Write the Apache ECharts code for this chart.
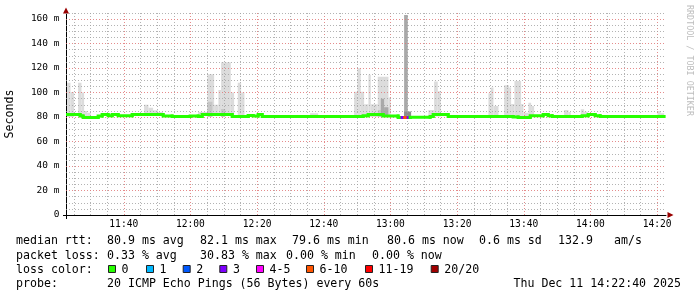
<!DOCTYPE html>
<html><head><meta charset="utf-8">
<script src="https://cdn.jsdelivr.net/npm/echarts@6/dist/echarts.min.js"></script>
<style>html,body{margin:0;padding:0;background:#fff}#c{width:697px;height:297px}</style>
</head><body><div id="c"></div>
<script>
// ---------------- data ----------------
const START = '11:22:40', END = '14:22:40';
const timeLabels = ['11:40','12:00','12:20','12:40','13:00','13:20','13:40','14:00','14:20'];
const yTickLabels = ['0','20 m','40 m','60 m','80 m','100 m','120 m','140 m','160 m'];
// median rtt steps: [from (min of day), to, ms, loss class]
const medianSegments = [
  [683.0,686.9,82.1,0],[686.9,687.8,80.8,0],[687.8,692.3,79.6,0],[692.3,693.5,80.8,0],
  [693.5,695.3,82.0,0],[695.3,696.5,81.0,0],[696.5,698.3,82.0,0],[698.3,702.5,81.0,0],
  [702.5,711.8,82.0,0],[711.8,714.5,80.8,0],[714.5,719.9,80.4,0],[719.9,722.3,80.8,0],
  [722.3,723.5,80.4,0],[723.5,732.5,82.0,0],[732.5,737.3,80.4,0],[737.3,738.8,81.3,0],
  [738.8,740.3,80.8,0],[740.3,741.5,82.0,0],[741.5,771.8,80.4,0],[771.8,773.3,81.1,0],
  [773.3,777.8,82.0,0],[777.8,782.3,80.8,0],[782.3,783.5,79.6,0],[783.5,784.3,79.6,3],
  [784.3,785.3,79.6,5],[785.3,785.9,79.6,3],[785.9,791.9,79.8,0],[791.9,792.8,80.4,0],
  [792.8,797.3,82.0,0],[797.3,816.8,80.4,0],[816.8,818.3,80.0,0],[818.3,821.9,79.6,0],
  [821.9,825.8,81.1,0],[825.8,827.3,82.0,0],[827.3,828.5,81.1,0],[828.5,837.5,80.4,0],
  [837.5,839.3,81.1,0],[839.3,841.4,82.0,0],[841.4,842.9,81.1,0],[842.9,862.1,80.4,0]
];
// smoke blocks: [from, to, low ms, high ms, shade]
const smoke = [
  [683.0,684.0,80,108,0],[684.0,685.1,80,100.5,0],[686.3,687.3,80,108,0],[687.3,688.1,80,100,0],
  [688.1,689.0,80,85,0],[689.0,690.1,80,83.5,0],
  [706.1,707.4,81,90,0],[707.4,708.8,81,87.5,0],[708.8,710.3,81,85.5,0],[710.3,711.8,81,84,0],
  [722.3,725.1,81,84,0],[725.1,727.1,81,115,0],[725.1,726.6,80,92.5,1],[727.1,728.4,81,90,0],
  [728.4,729.2,81,102,0],[729.2,732.1,81,124.6,0],[729.2,730.4,80,86.5,1],[732.1,733.1,81,100,0],
  [734.2,735.2,81,108,0],[735.2,736.2,81,100,0],
  [755.9,758.3,80,83,0],
  [769.1,770.1,80,100.7,0],[770.1,771.1,80,119.7,0],[771.1,772.1,80,100.7,0],[772.1,773.4,80,90.5,0],
  [773.4,774.1,80,114.5,0],[774.1,776.2,80,90.5,0],[776.2,779.4,80,112.9,0],[779.4,780.1,80,96,0],
  [776.2,777.1,80,85.7,1],[777.1,778.1,80,95,2],[778.1,779.4,80,88,2],
  [784.1,785.2,80,163.3,2],[784.1,786.2,79.5,84.5,3],
  [791.4,793.1,80.5,85.7,0],[793.1,794.2,80.5,109,0],[794.2,795.1,80.5,101,0],
  [809.4,810.1,80,99.3,0],[810.1,810.9,80,104,0],[810.9,812.4,80,89,0],
  [814.1,815.6,80,106,0],[815.6,816.2,80,104,0],[816.2,817.2,80,90.6,0],[817.2,819.2,80,109.4,0],
  [819.2,819.9,80,90.6,0],[819.9,821.4,80,83.5,0],[821.4,822.2,80,91.7,0],[822.2,823.1,80,89,0],
  [832.1,833.4,80,85.7,0],[833.4,834.1,80,84,0],[837.1,838.1,80,86.3,0],[838.1,839.2,80,84.3,0],
  [860.1,861.1,80,85,0],[861.1,862.1,80,83,0]
];
const rttStats = ['median rtt:','80.9 ms avg','82.1 ms max','79.6 ms min','80.6 ms now','0.6 ms sd','132.9','am/s'];
const lossStats = ['packet loss:','0.33 % avg','30.83 % max','0.00 % min','0.00 % now'];
const lossLegend = ['0','1','2','3','4-5','6-10','11-19','20/20'];
const probeText = ['probe:','20 ICMP Echo Pings (56 Bytes) every 60s'];
const dateText = 'Thu Dec 11 14:22:40 2025';

// ---------------- styles / layout ----------------
const lossPalette = ['#26ff00','#00b8ff','#0059ff','#7e00ff','#ff00ff','#ff5500','#ff0000','#a10000'];
const smokeShades = ['#dcdcdc','#c6c6c6','#a9a9a9','#8c8c8c'];
const MONO = '"DejaVu Sans Mono", monospace';
const toMin = s => { const p = s.split(':').map(Number); return p[0]*60 + p[1] + (p[2]||0)/60; };
const tMin = toMin(START), tMax = toMin(END);
const labelTimes = timeLabels.map(toMin);
const Y_MAX = 166;

const chart = echarts.init(document.getElementById('c'), null, {renderer:'canvas', width:697, height:297});

// grid lines
const gridLines = [];
const majorStyle = {color:'rgba(225,120,120,0.85)', width:1, type:[1,2]};
const minorStyle = {color:'rgba(160,160,160,0.8)', width:1, type:[1,2]};
for (let t = Math.ceil(tMin/5)*5; t < tMax; t += 5) {
  gridLines.push({xAxis:t, lineStyle: (t % 20 === 0) ? majorStyle : minorStyle});
}
for (let v = 5; v <= 165; v += 5) {
  gridLines.push({yAxis:v, lineStyle: (v % 20 === 0) ? majorStyle : minorStyle});
}

// median steps: [from, to, value, previous value, loss]
const medianData = medianSegments.map((s, i) => [s[0], s[1], s[2], i ? medianSegments[i-1][2] : s[2], s[3]]);

// legend graphics
const g = [];
const txt = (text, x, y, extra) => g.push(Object.assign({type:'text', x, y, silent:true,
  style:{text, font:'11.6px ' + MONO, fill:'#000', align:'left', verticalAlign:'middle'}}, extra||{}));
const rowY = [241, 255.5, 269.5, 283.5];
const rttX = [16,107,200,292,387,479,558,614];
rttStats.forEach((s,i) => txt(s, rttX[i], rowY[0]));
const lossX = [16,107,200,286,372];
lossStats.forEach((s,i) => txt(s, lossX[i], rowY[1]));
txt('loss color:', 16, rowY[2]);
const boxX = [108,146,182.7,219.3,256,306,365,430.7];
lossLegend.forEach((s,i) => {
  g.push({type:'rect', silent:true, shape:{x:boxX[i]+0.5, y:265.5, width:7, height:7},
    style:{fill:lossPalette[i], stroke:'#222', lineWidth:1}});
  txt(s, boxX[i] + 13.6, rowY[2]);
});
txt(probeText[0], 16, rowY[3]);
txt(probeText[1], 107, rowY[3]);
g.push({type:'text', x:681, y:rowY[3], silent:true,
  style:{text:dateText, font:'11.6px ' + MONO, fill:'#000', align:'right', verticalAlign:'middle'}});
g.push({type:'text', x:689, y:5, rotation:-Math.PI/2, silent:true,
  style:{text:'RRDTOOL / TOBI OETIKER', font:'8.4px ' + MONO, fill:'#bdbdbd', align:'left', verticalAlign:'middle'}});
g.push({type:'text', x:10, y:114, rotation:Math.PI/2, silent:true,
  style:{text:'Seconds', font:'11.6px ' + MONO, fill:'#000', align:'center', verticalAlign:'middle'}});

const option = {
  backgroundColor:'#ffffff',
  animation:false,
  grid:{left:66, right:31, top:215 - Y_MAX*1.225, bottom:82, containLabel:false, outerBoundsMode:'none'},
  xAxis:[{
    type:'value', min:tMin, max:tMax, position:'bottom',
    axisLine:{show:true, lineStyle:{color:'#000', width:1}},
    axisTick:{show:true, customValues:[tMin], length:4, lineStyle:{color:'#000', width:1}},
    splitLine:{show:false},
    axisLabel:{customValues:labelTimes, margin:4, color:'#000', fontFamily:MONO, fontSize:9.6,
      formatter: v => { const i = labelTimes.findIndex(t => Math.abs(t - v) < 1e-6); return i >= 0 ? timeLabels[i] : ''; }}
  },{
    type:'value', min:tMin, max:tMax, position:'bottom',
    axisLine:{show:true, symbol:['none','triangle'], symbolSize:[6,6], symbolOffset:[0,4.5],
      lineStyle:{color:'#990000', width:0}},
    axisTick:{show:false}, axisLabel:{show:false}, splitLine:{show:false}
  }],
  yAxis:[{
    type:'value', min:0, max:Y_MAX, interval:20, position:'left',
    axisLine:{show:true, lineStyle:{color:'#000', width:1}},
    axisTick:{show:true, customValues:[0], length:3, lineStyle:{color:'#000', width:1}},
    splitLine:{show:false},
    axisLabel:{margin:6.5, color:'#000', fontFamily:MONO, fontSize:9.5,
      formatter: v => (v % 20 === 0 && v/20 < yTickLabels.length) ? yTickLabels[v/20] : ''}
  },{
    type:'value', min:0, max:Y_MAX, position:'left', offset:0,
    axisLine:{show:true, symbol:['none','triangle'], symbolSize:[6,6], symbolOffset:[0,1.2],
      lineStyle:{color:'#990000', width:0}},
    axisTick:{show:false}, axisLabel:{show:false}, splitLine:{show:false}
  }],
  graphic:g,
  series:[{
    type:'custom', z:2, silent:true, clip:true,
    data:smoke,
    renderItem:(params, api) => {
      const a = api.coord([api.value(0), api.value(3)]);
      const b = api.coord([api.value(1), api.value(2)]);
      return {type:'rect', shape:{x:a[0], y:a[1], width:b[0]-a[0], height:b[1]-a[1]},
        style:{fill:smokeShades[api.value(4)]}};
    },
    markLine:{silent:true, symbol:'none', label:{show:false}, animation:false, data:gridLines}
  },{
    type:'custom', z:10, silent:true, clip:true,
    data:medianData,
    renderItem:(params, api) => {
      const p0 = api.coord([api.value(0), api.value(3)]);
      const p1 = api.coord([api.value(0), api.value(2)]);
      const p2 = api.coord([api.value(1), api.value(2)]);
      return {type:'polyline', shape:{points:[p0, p1, p2]},
        style:{stroke:lossPalette[api.value(4)], lineWidth:3, fill:null, lineJoin:'miter', lineCap:'square'}};
    }
  }]
};
chart.setOption(option);
</script></body></html>
